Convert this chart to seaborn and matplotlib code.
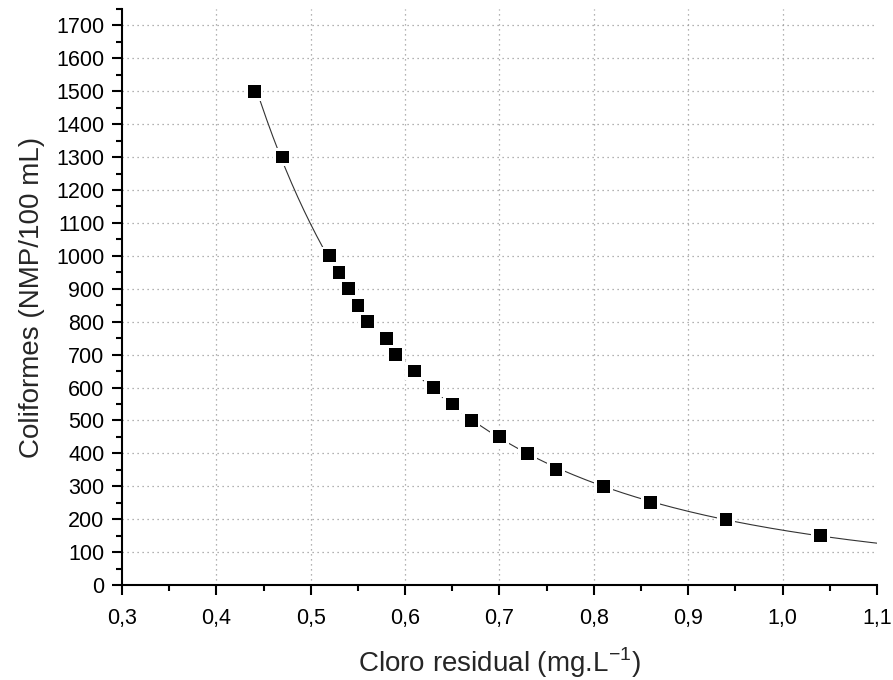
import numpy as np
import pandas as pd
import seaborn as sns
import matplotlib.pyplot as plt
from matplotlib.ticker import MultipleLocator, FuncFormatter

cloro = [0.44, 0.47, 0.52, 0.53, 0.54, 0.55, 0.56, 0.58, 0.59, 0.61,
         0.63, 0.65, 0.67, 0.70, 0.73, 0.76, 0.81, 0.86, 0.94, 1.04]
coliformes = [1500, 1300, 1000, 950, 900, 850, 800, 750, 700, 650,
              600, 550, 500, 450, 400, 350, 300, 250, 200, 150]

df = pd.DataFrame({"cloro": cloro, "coliformes": coliformes})

# smooth fit through the points (quadratic in log-log), extended to 1.1
coef = np.polyfit(np.log(df["cloro"]), np.log(df["coliformes"]), 2)
x_fit = np.linspace(min(cloro), 1.1, 200)
fit = pd.DataFrame({"x": x_fit, "y": np.exp(np.polyval(coef, np.log(x_fit)))})

sns.set_style("ticks")
plt.rcParams["font.family"] = ["Liberation Sans", "DejaVu Sans"]

fig = plt.figure(figsize=(8.93, 6.8), dpi=100)
ax = fig.add_axes([0.1366, 0.1397, 0.8454, 0.8471])

sns.lineplot(data=fit, x="x", y="y", color="#333333", lw=0.8, ax=ax, zorder=2)
# white halo so the line stops short of the symbols
sns.scatterplot(data=df, x="cloro", y="coliformes", marker="s", s=180,
                color="white", edgecolor="none", ax=ax, zorder=3)
sns.scatterplot(data=df, x="cloro", y="coliformes", marker="s", s=85,
                color="black", edgecolor="none", ax=ax, zorder=4)

ax.set_xlim(0.3, 1.1)
ax.set_ylim(0, 1750)
ax.set_xticks(np.arange(0.3, 1.101, 0.1))
ax.set_yticks(np.arange(0, 1701, 100))
ax.xaxis.set_minor_locator(MultipleLocator(0.05))
ax.yaxis.set_minor_locator(MultipleLocator(50))
ax.xaxis.set_major_formatter(FuncFormatter(lambda v, p: f"{v:.1f}".replace(".", ",")))

ax.grid(True, which="major", linestyle=(0, (1, 3)), color="#999999", lw=0.9)
for line, loc in zip(ax.xaxis.get_gridlines(), ax.get_xticks()):
    if abs(loc - 0.3) < 1e-6 or abs(loc - 1.1) < 1e-6:
        line.set_visible(False)
for line, loc in zip(ax.yaxis.get_gridlines(), ax.get_yticks()):
    if loc == 0:
        line.set_visible(False)

for s in ["top", "right"]:
    ax.spines[s].set_visible(False)
for s in ["left", "bottom"]:
    ax.spines[s].set_linewidth(1.5)
    ax.spines[s].set_color("black")

ax.tick_params(which="major", direction="out", length=7.5, width=1.5,
               labelsize=15.5, colors="black", pad=5)
ax.tick_params(axis="x", which="major", pad=9)
ax.tick_params(which="minor", direction="out", length=4, width=1.5, colors="black")

ax.set_xlabel("Cloro residual (mg.L$^{\\mathregular{-1}}$)", fontsize=20, labelpad=12)
ax.set_ylabel("Coliformes (NMP/100 mL)", fontsize=20, labelpad=8)

fig.savefig("out.png", dpi=100)
